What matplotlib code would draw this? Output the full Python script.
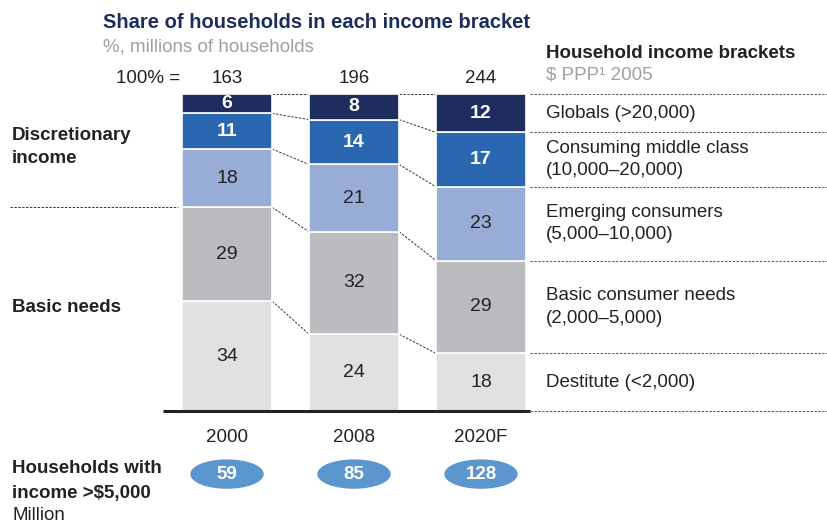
import matplotlib.pyplot as plt
from matplotlib.patches import Ellipse
import numpy as np

plt.rcParams['font.family'] = ['Liberation Sans', 'DejaVu Sans']

# data
years = ['2000', '2008', '2020F']
totals = [163, 196, 244]
above_5000 = [59, 85, 128]
# bottom -> top
brackets = ['Destitute (<2,000)', 'Basic consumer needs\n(2,000\u20135,000)',
            'Emerging consumers\n(5,000\u201310,000)', 'Consuming middle class\n(10,000\u201320,000)',
            'Globals (>20,000)']
destitute = [34, 24, 18]
basic = [29, 32, 29]
emerging = [18, 21, 23]
middle = [11, 14, 17]
globals_ = [6, 8, 12]

colors = ['#E0E1E3', '#BBBCBF', '#97ADD8', '#2B67B1', '#1F2D5E']
text_colors = ['#222222', '#222222', '#222222', 'white', 'white']
navy = '#1F2D5E'
grey = '#A0A0A0'
fs = 13.5

series = np.array([destitute, basic, emerging, middle, globals_], dtype=float)
shares = series / series.sum(axis=0) * 100
cum = np.vstack([np.zeros(3), np.cumsum(shares, axis=0)])

W, H = 827, 523
fig = plt.figure(figsize=(W / 100, H / 100), dpi=100)
ax = fig.add_axes([0, (H - 411) / H, 1, 317 / H])
ax.set_xlim(-227 / 127, 600 / 127)
ax.set_ylim(0, 100)
ax.axis('off')

x = np.arange(3)
bw = 0.71
for k in range(5):
    ax.bar(x, shares[k], bottom=cum[k], width=bw, color=colors[k],
           edgecolor='white', linewidth=1.2, zorder=2)
    for i in range(3):
        ax.text(x[i], cum[k, i] + shares[k, i] / 2, f'{int(series[k, i])}',
                ha='center', va='center', fontsize=14, color=text_colors[k],
                fontweight='bold' if k >= 3 else 'normal', zorder=3)

# connector lines
dash = (0, (2.5, 1.5))
for k in range(1, 6):
    for i in range(2):
        ax.plot([x[i] + bw / 2, x[i + 1] - bw / 2], [cum[k, i], cum[k, i + 1]],
                color='#333333', lw=0.7, ls=dash, zorder=1, clip_on=False)
for k in range(0, 6):
    ax.plot([x[2] + bw / 2 + 0.03, 600 / 127], [cum[k, 2], cum[k, 2]],
            color='#555555', lw=0.7, ls=dash, zorder=1, clip_on=False)
# left separator
ax.plot([-217 / 127, x[0] - bw / 2 - 0.03], [cum[2, 0], cum[2, 0]],
        color='#333333', lw=0.7, ls=dash)

# baseline
ax.plot([(163 - 227) / 127, (530 - 227) / 127], [0, 0], color='#222222', lw=2.2,
        solid_capstyle='butt', zorder=4, clip_on=False)

# totals and years
for i in range(3):
    ax.text(x[i], 105, str(totals[i]), ha='center', va='center', fontsize=fs, color='#222222')
    ax.text(x[i], -8.4, years[i], ha='center', va='center', fontsize=fs, color='#222222')
    ax.add_patch(Ellipse((x[i], -19.9), 72 / 127, 28 / 3.17, color='#5B96CF',
                         clip_on=False, zorder=3))
    ax.text(x[i], -19.9, str(above_5000[i]), ha='center', va='center', fontsize=fs,
            color='white', fontweight='bold', zorder=4)
ax.text((180 - 227) / 127, 105, '100% =', ha='right', va='center', fontsize=fs, color='#222222')

# right labels
for k in range(5):
    ax.text((546 - 227) / 127, cum[k, 2] + shares[k, 2] / 2, brackets[k],
            ha='left', va='center', fontsize=fs, color='#222222', linespacing=1.4)

def fy(py):
    return 1 - py / H

fig.text(103 / W, fy(22), 'Share of households in each income bracket', fontsize=14.5,
         fontweight='bold', color=navy, va='center')
fig.text(103 / W, fy(47), '%, millions of households', fontsize=fs, color=grey, va='center')
fig.text(546 / W, fy(53), 'Household income brackets', fontsize=fs, fontweight='bold',
         color='#222222', va='center')
fig.text(546 / W, fy(75), '$ PPP\u00b9 2005', fontsize=fs, color=grey, va='center')
fig.text(12 / W, fy(147), 'Discretionary\nincome', fontsize=fs, fontweight='bold',
         color='#222222', va='center', linespacing=1.4)
fig.text(12 / W, fy(307), 'Basic needs', fontsize=fs, fontweight='bold', color='#222222', va='center')
fig.text(12 / W, fy(481), 'Households with\nincome >$5,000', fontsize=fs, fontweight='bold',
         color='#222222', va='center', linespacing=1.55)
fig.text(12 / W, fy(515), 'Million', fontsize=fs, color='#222222', va='center')

fig.savefig('out.png', dpi=100)
